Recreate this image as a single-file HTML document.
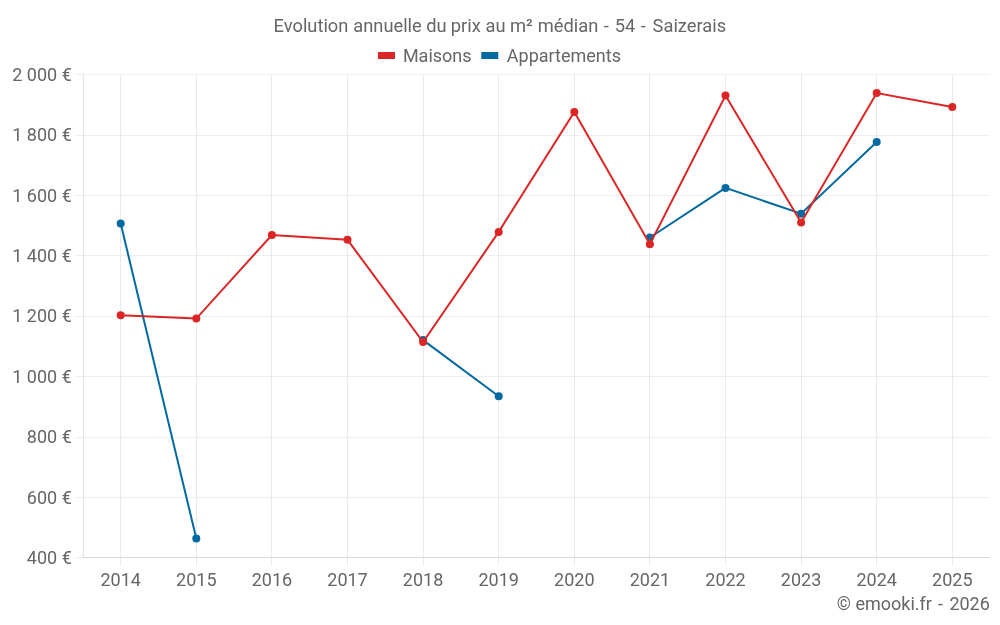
<!DOCTYPE html><html><head><meta charset="utf-8"><title>Evolution annuelle du prix au m² médian - 54 - Saizerais</title><style>html,body{margin:0;padding:0;background:#fff;width:1000px;height:625px;overflow:hidden}svg{display:block;will-change:transform}text{font-family:Roboto,"Liberation Sans",sans-serif;font-size:18px;fill:#666666}</style></head><body>
<svg width="1000" height="625" viewBox="0 0 1000 625">
<rect width="1000" height="625" fill="#fff"/>
<rect x="75" y="74" width="915" height="1" fill="#efefef"/>
<text x="71.8" y="80.7" text-anchor="end">2 000 €</text>
<rect x="75" y="135" width="915" height="1" fill="#efefef"/>
<text x="71.8" y="141.1" text-anchor="end">1 800 €</text>
<rect x="75" y="195" width="915" height="1" fill="#efefef"/>
<text x="71.8" y="201.5" text-anchor="end">1 600 €</text>
<rect x="75" y="255" width="915" height="1" fill="#efefef"/>
<text x="71.8" y="261.9" text-anchor="end">1 400 €</text>
<rect x="75" y="316" width="915" height="1" fill="#efefef"/>
<text x="71.8" y="322.3" text-anchor="end">1 200 €</text>
<rect x="75" y="376" width="915" height="1" fill="#efefef"/>
<text x="71.8" y="382.7" text-anchor="end">1 000 €</text>
<rect x="75" y="437" width="915" height="1" fill="#efefef"/>
<text x="71.8" y="443.1" text-anchor="end">800 €</text>
<rect x="75" y="497" width="915" height="1" fill="#efefef"/>
<text x="71.8" y="503.5" text-anchor="end">600 €</text>
<rect x="75" y="557" width="8" height="1" fill="#efefef"/>
<rect x="83" y="557" width="907" height="1" fill="#d9d9d9"/>
<text x="71.8" y="563.9" text-anchor="end">400 €</text>
<rect x="83" y="74" width="1" height="483" fill="#e4e4e4"/>
<rect x="120" y="74" width="1" height="483" fill="#ebebeb"/>
<rect x="120" y="558" width="1" height="8" fill="#ebebeb"/>
<text x="120.70" y="585.8" text-anchor="middle">2014</text>
<rect x="196" y="74" width="1" height="483" fill="#ebebeb"/>
<rect x="196" y="558" width="1" height="8" fill="#ebebeb"/>
<text x="196.30" y="585.8" text-anchor="middle">2015</text>
<rect x="271" y="74" width="1" height="483" fill="#ebebeb"/>
<rect x="271" y="558" width="1" height="8" fill="#ebebeb"/>
<text x="271.90" y="585.8" text-anchor="middle">2016</text>
<rect x="347" y="74" width="1" height="483" fill="#ebebeb"/>
<rect x="347" y="558" width="1" height="8" fill="#ebebeb"/>
<text x="347.50" y="585.8" text-anchor="middle">2017</text>
<rect x="423" y="74" width="1" height="483" fill="#ebebeb"/>
<rect x="423" y="558" width="1" height="8" fill="#ebebeb"/>
<text x="423.10" y="585.8" text-anchor="middle">2018</text>
<rect x="498" y="74" width="1" height="483" fill="#ebebeb"/>
<rect x="498" y="558" width="1" height="8" fill="#ebebeb"/>
<text x="498.70" y="585.8" text-anchor="middle">2019</text>
<rect x="574" y="74" width="1" height="483" fill="#ebebeb"/>
<rect x="574" y="558" width="1" height="8" fill="#ebebeb"/>
<text x="574.30" y="585.8" text-anchor="middle">2020</text>
<rect x="649" y="74" width="1" height="483" fill="#ebebeb"/>
<rect x="649" y="558" width="1" height="8" fill="#ebebeb"/>
<text x="649.90" y="585.8" text-anchor="middle">2021</text>
<rect x="725" y="74" width="1" height="483" fill="#ebebeb"/>
<rect x="725" y="558" width="1" height="8" fill="#ebebeb"/>
<text x="725.50" y="585.8" text-anchor="middle">2022</text>
<rect x="801" y="74" width="1" height="483" fill="#ebebeb"/>
<rect x="801" y="558" width="1" height="8" fill="#ebebeb"/>
<text x="801.10" y="585.8" text-anchor="middle">2023</text>
<rect x="876" y="74" width="1" height="483" fill="#ebebeb"/>
<rect x="876" y="558" width="1" height="8" fill="#ebebeb"/>
<text x="876.70" y="585.8" text-anchor="middle">2024</text>
<rect x="952" y="74" width="1" height="483" fill="#ebebeb"/>
<rect x="952" y="558" width="1" height="8" fill="#ebebeb"/>
<text x="952.30" y="585.8" text-anchor="middle">2025</text>
<polyline fill="none" stroke="#0369a1" stroke-width="2" stroke-linejoin="miter" points="120.70,223.60 196.30,538.50"/>
<polyline fill="none" stroke="#0369a1" stroke-width="2" stroke-linejoin="miter" points="423.10,340.10 498.70,396.30"/>
<polyline fill="none" stroke="#0369a1" stroke-width="2" stroke-linejoin="miter" points="649.90,237.50 725.50,187.90 801.10,213.70 876.70,141.90"/>
<circle cx="120.70" cy="223.60" r="4" fill="#0369a1"/>
<circle cx="196.30" cy="538.50" r="4" fill="#0369a1"/>
<circle cx="423.10" cy="340.10" r="4" fill="#0369a1"/>
<circle cx="498.70" cy="396.30" r="4" fill="#0369a1"/>
<circle cx="649.90" cy="237.50" r="4" fill="#0369a1"/>
<circle cx="725.50" cy="187.90" r="4" fill="#0369a1"/>
<circle cx="801.10" cy="213.70" r="4" fill="#0369a1"/>
<circle cx="876.70" cy="141.90" r="4" fill="#0369a1"/>
<polyline fill="none" stroke="#dc2626" stroke-width="2" stroke-linejoin="miter" points="120.70,315.20 196.30,318.60 271.90,235.00 347.50,239.80 423.10,342.00 498.70,231.90 574.30,112.00 649.90,244.20 725.50,95.50 801.10,222.60 876.70,93.00 952.30,107.00"/>
<circle cx="120.70" cy="315.20" r="4" fill="#dc2626"/>
<circle cx="196.30" cy="318.60" r="4" fill="#dc2626"/>
<circle cx="271.90" cy="235.00" r="4" fill="#dc2626"/>
<circle cx="347.50" cy="239.80" r="4" fill="#dc2626"/>
<circle cx="423.10" cy="342.00" r="4" fill="#dc2626"/>
<circle cx="498.70" cy="231.90" r="4" fill="#dc2626"/>
<circle cx="574.30" cy="112.00" r="4" fill="#dc2626"/>
<circle cx="649.90" cy="244.20" r="4" fill="#dc2626"/>
<circle cx="725.50" cy="95.50" r="4" fill="#dc2626"/>
<circle cx="801.10" cy="222.60" r="4" fill="#dc2626"/>
<circle cx="876.70" cy="93.00" r="4" fill="#dc2626"/>
<circle cx="952.30" cy="107.00" r="4" fill="#dc2626"/>
<text x="273.58" y="31.5" style="font-size:18.3px">Evolution</text>
<text x="353.28" y="31.5" style="font-size:18.3px">annuelle</text>
<text x="426.19" y="31.5" style="font-size:18.3px">du</text>
<text x="450.78" y="31.5" style="font-size:18.3px">prix</text>
<text x="485.58" y="31.5" style="font-size:18.3px">au</text>
<text x="509.98" y="31.5" style="font-size:18.3px">m²</text>
<text x="537.78" y="31.5" style="font-size:18.3px">médian</text>
<text x="603.70" y="31.5" style="font-size:18.3px">-</text>
<text x="614.78" y="31.5" style="font-size:18.3px">54</text>
<text x="640.80" y="31.5" style="font-size:18.3px">-</text>
<text x="652.59" y="31.5" style="font-size:18.3px">Saizerais</text>
<rect x="378" y="52" width="17" height="7" fill="#dc2626"/>
<text x="402.9" y="62.0">Maisons</text>
<rect x="481.3" y="52" width="17" height="7" fill="#0369a1"/>
<text x="506.8" y="62.0">Appartements</text>
<text x="836.80" y="610.2">© emooki.fr</text>
<text x="937.90" y="610.2">-</text>
<text x="949.40" y="610.2">2026</text>
</svg></body></html>
